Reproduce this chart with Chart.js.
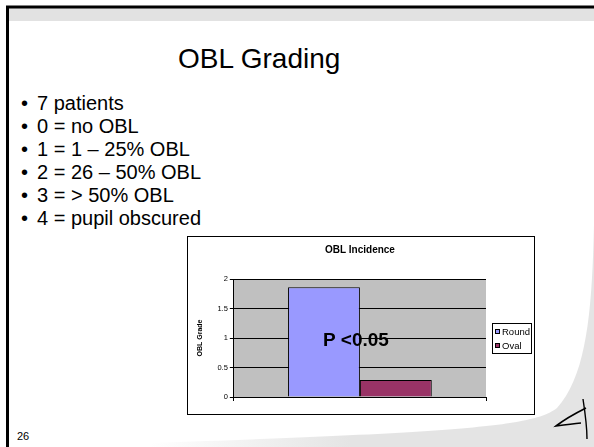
<!DOCTYPE html>
<html>
<head>
<meta charset="utf-8">
<script src="https://cdn.jsdelivr.net/npm/chart.js@4.4.0/dist/chart.umd.min.js"></script>
<style>
  html, body { margin: 0; padding: 0; background: #fff; }
  #slide { position: relative; width: 594px; height: 447px; overflow: hidden; font-family: "Liberation Sans", Arial, sans-serif; color: #000; }
  #deco { position: absolute; left: 0; top: 0; }
  #title { position: absolute; left: 178px; top: 45px; font-size: 28px; line-height: 28px; white-space: nowrap; }
  #bullets { position: absolute; left: 21px; top: 92px; margin: 0; padding: 0; list-style: none; font-size: 20px; line-height: 23px; white-space: nowrap; }
  #bullets li span { display: inline-block; width: 16px; }
  #pagenum { position: absolute; left: 17px; top: 431px; font-size: 11px; line-height: 11px; }
  #chartBox { position: absolute; left: 187px; top: 236px; width: 348px; height: 179px; box-sizing: border-box; border: 1px solid #000; background: #fff; }
</style>
</head>
<body>
<div id="slide">
  <svg id="deco" width="594" height="447">
    <defs>
      <linearGradient id="fade" x1="0" x2="1" y1="0" y2="0">
        <stop offset="0" stop-color="#e4e4e4" stop-opacity="0"/>
        <stop offset="0.45" stop-color="#e4e4e4" stop-opacity="1"/>
      </linearGradient>
    </defs>
    <rect x="7" y="6" width="587" height="15" fill="#e2e2e2"/>
    <line x1="6" y1="7" x2="594" y2="7" stroke="#000" stroke-width="3"/>
    <line x1="7.5" y1="6" x2="7.5" y2="447" stroke="#000" stroke-width="3"/>
    <path d="M594 225 C592 310 587 375 557 408 C535 425 480 432 150 443 L150 447 L594 447 Z" fill="url(#fade)"/>
    <path d="M586 408 C576 413 565 419 556 426 C564 425 572 424 581 423" fill="none" stroke="#000" stroke-width="1.6"/>
    <path d="M583 399 C585 412 587 425 587 439" fill="none" stroke="#000" stroke-width="1.4"/>
  </svg>
  <div id="title">OBL Grading</div>
  <ul id="bullets">
    <li><span>•</span>7 patients</li>
    <li><span>•</span>0 = no OBL</li>
    <li><span>•</span>1 = 1 – 25% OBL</li>
    <li><span>•</span>2 = 26 – 50% OBL</li>
    <li><span>•</span>3 = &gt; 50% OBL</li>
    <li><span>•</span>4 = pupil obscured</li>
  </ul>
  <div id="pagenum">26</div>
  <div id="chartBox"><canvas id="obl" width="346" height="177"></canvas></div>
</div>
<script>
const categories = [''];
const roundValues = [1.86];
const ovalValues = [0.29];
const yTicks = [0, 0.5, 1, 1.5, 2];
const yTickLabels = ['0', '0.5', '1', '1.5', '2'];
const annotationText = 'P <0.05';

const ctx = document.getElementById('obl').getContext('2d');
const font = '"Liberation Sans", Arial';

// gray plot area like the old Excel charts
const plotBackground = {
    id: 'plotBackground',
    beforeDraw(chart) {
        const a = chart.chartArea;
        chart.ctx.save();
        chart.ctx.fillStyle = '#c0c0c0';
        chart.ctx.fillRect(a.left, a.top, a.right - a.left, a.bottom - a.top);
        chart.ctx.restore();
    }
};

// boxed legend to the right + the p-value text on top of the bars
const extras = {
    id: 'extras',
    afterDraw(chart) {
        const c = chart.ctx;
        const a = chart.chartArea;
        const bx = Math.round(a.right) + 6;
        const by = Math.round((a.top + a.bottom) / 2) - 15;
        c.save();
        c.strokeStyle = '#000';
        c.lineWidth = 1;
        c.strokeRect(bx + 0.5, by + 0.5, 39, 30);
        c.font = '9.5px ' + font;
        c.textBaseline = 'middle';
        chart.data.datasets.forEach((ds, i) => {
            const iy = by + 8 + i * 14;
            c.fillStyle = ds.backgroundColor;
            c.fillRect(bx + 3, iy - 2, 5, 5);
            c.strokeRect(bx + 3.5, iy - 1.5, 4, 4);
            c.fillStyle = '#000';
            c.fillText(ds.label, bx + 10, iy + 1);
        });

        const x = chart.scales.x, y = chart.scales.y;
        c.font = 'bold 19px ' + font;
        c.textAlign = 'center';
        c.fillText(annotationText, x.getPixelForValue(0) - 4, y.getPixelForValue(0.95));
        c.restore();
    }
};

new Chart(ctx, {
    type: 'bar',
    data: {
        labels: categories,
        datasets: [{
            label: 'Round',
            data: roundValues,
            backgroundColor: '#9999ff',
            borderColor: '#000',
            borderWidth: 1
        },
        {
            label: 'Oval',
            data: ovalValues,
            backgroundColor: '#993366',
            borderColor: '#000',
            borderWidth: 1
        }]
    },
    options: {
        responsive: false,
        animation: false,
        layout: {
            padding: { left: 6, right: 48, top: 0, bottom: 13 }
        },
        plugins: {
            title: {
                display: true,
                fullSize: false,
                text: 'OBL Incidence',
                color: '#000',
                font: { family: font, size: 10, weight: 'bold' },
                padding: { top: 7, bottom: 23 }
            },
            legend: { display: false },
            tooltip: { enabled: false }
        },
        datasets: {
            bar: { categoryPercentage: 0.57, barPercentage: 1 }
        },
        scales: {
            x: {
                grid: { color: '#000', drawOnChartArea: false, drawTicks: true, tickLength: 4 },
                border: { color: '#000' },
                ticks: { display: false }
            },
            y: {
                min: 0,
                max: 2,
                afterBuildTicks(axis) { axis.ticks = yTicks.map(v => ({ value: v })); },
                ticks: {
                    color: '#000',
                    padding: 2,
                    font: { family: font, size: 7.5 },
                    callback: (v, i) => yTickLabels[i]
                },
                grid: { color: '#000', tickLength: 4 },
                border: { color: '#000' },
                title: {
                    display: true,
                    text: 'OBL Grade',
                    color: '#000',
                    padding: { top: 2, bottom: 11 },
                    font: { family: font, size: 7, weight: 'bold' }
                }
            }
        }
    },
    plugins: [plotBackground, extras]
});
</script>
</body>
</html>
